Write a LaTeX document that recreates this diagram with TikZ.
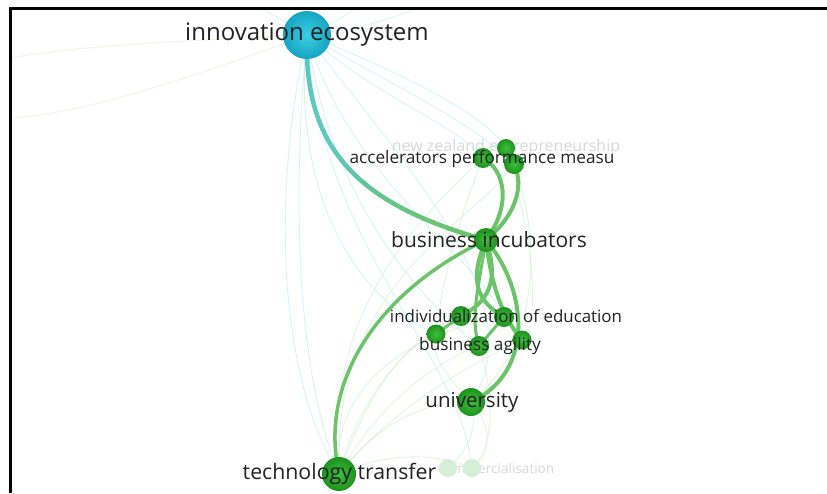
\documentclass[tikz,border=0pt]{standalone}
\usepackage{fontspec}
\setmainfont{Open Sans}
\usetikzlibrary{calc}
\pgfdeclarelayer{edges}
\pgfdeclarelayer{faint}
\pgfdeclarelayer{labels}
\pgfsetlayers{faint,edges,main,labels}
\definecolor{edgegreen}{HTML}{6CC46A}
\definecolor{edgeteal}{HTML}{5CC8C0}
\definecolor{nodein}{HTML}{3DBE3D}
\definecolor{nodeout}{HTML}{1E921E}
\definecolor{tealin}{HTML}{3CCDE4}
\definecolor{tealout}{HTML}{16A5C2}
\definecolor{faintg}{HTML}{C9EBCB}
\definecolor{faintc}{HTML}{C6EEF0}
\definecolor{fainty}{HTML}{F2F6E6}
\definecolor{lbltext}{HTML}{222222}
\definecolor{fadedtext}{HTML}{D8D8D8}
\tikzset{
  x=1pt, y=-1pt,
  gnode/.style={circle, inner sep=0pt, shade, inner color=nodein, outer color=nodeout},
  tnode/.style={circle, inner sep=0pt, shade, inner color=tealin, outer color=tealout},
  fnode/.style={circle, inner sep=0pt, fill=faintg!80!white},
  lbl/.style={inner sep=0pt, text=lbltext},
  flbl/.style={inner sep=0pt, text=fadedtext},
  mainedge/.style={draw=edgegreen, line width=4pt, line cap=round},
  faintedge/.style={draw=faintg, line width=0.9pt, opacity=0.55},
  faintcedge/.style={draw=faintc, line width=0.9pt, opacity=0.7},
  faintyedge/.style={draw=fainty, line width=1.2pt},
}
\begin{document}
\begin{tikzpicture}
\useasboundingbox (0,0) rectangle (827,493);
% nodes
\node[tnode, minimum size=48pt] (ie) at (307,35) {};
\node[gnode, minimum size=18pt] (nz) at (506,148) {};
\node[gnode, minimum size=20pt] (acc) at (483,158) {};
\node[gnode, minimum size=20pt] (acc2) at (514,164) {};
\node[gnode, minimum size=24pt] (bi) at (486,240) {};
\node[gnode, minimum size=20pt] (ind1) at (461,316) {};
\node[gnode, minimum size=20pt] (ind2) at (504,317) {};
\node[gnode, minimum size=19pt] (n3) at (436,334) {};
\node[gnode, minimum size=20pt] (ag) at (479,346) {};
\node[gnode, minimum size=19pt] (n4) at (522,340) {};
\node[gnode, minimum size=28pt] (uni) at (471,402) {};
\node[gnode, minimum size=34pt] (tt) at (339,474) {};
\node[fnode, minimum size=18pt] (c1) at (448,468) {};
\node[fnode, minimum size=18pt] (c2) at (472,468) {};
\coordinate (offl1) at (10,118);
\coordinate (offl2) at (10,58);
\coordinate (offu1) at (262,8);
\coordinate (offu2) at (356,8);
\coordinate (offu3) at (420,8);
\coordinate (offb) at (328,493);
% faint edges
\begin{pgfonlayer}{faint}
\draw[faintyedge] (ie.center) .. controls (200,75) and (80,115) .. (offl1);
\draw[faintyedge] (ie.center) .. controls (200,40) and (80,45) .. (offl2);
\draw[faintcedge] (ie.center) .. controls (290,25) .. (offu1);
\draw[faintcedge] (ie.center) .. controls (330,25) .. (offu2);
\draw[faintcedge] (ie.center) .. controls (360,28) .. (offu3);
\draw[faintcedge] (ie.center) .. controls (270,200) and (280,380) .. (tt.center);
\draw[faintcedge] (ie.center) .. controls (290,220) and (300,380) .. (tt.center);
\draw[faintcedge] (ie.center) .. controls (390,150) and (540,300) .. (uni.center);
\draw[faintcedge] (ie.center) .. controls (420,80) and (490,120) .. (nz.center);
\draw[faintcedge] (ie.center) .. controls (400,90) and (470,120) .. (acc2.center);
\draw[faintcedge] (ie.center) .. controls (380,100) and (450,120) .. (acc.center);
\draw[faintcedge] (ie.center) .. controls (330,200) and (420,300) .. (ag.center);
\draw[faintcedge] (ie.center) .. controls (290,200) and (360,300) .. (n3.center);
\draw[faintcedge] (ie.center) .. controls (320,250) and (460,350) .. (c2.center);
\draw[faintcedge] (ie.center) .. controls (350,180) and (470,250) .. (ind2.center);
\draw[faintedge] (tt.center) .. controls (380,420) and (430,400) .. (uni.center);
\draw[faintedge] (tt.center) .. controls (400,400) and (480,360) .. (n4.center);
\draw[faintedge] (tt.center) .. controls (380,400) and (440,360) .. (ag.center);
\draw[faintedge] (tt.center) .. controls (360,390) and (420,330) .. (ind1.center);
\draw[faintedge] (tt.center) .. controls (330,380) and (420,330) .. (ind2.center);
\draw[faintedge] (tt.center) .. controls (320,300) and (440,200) .. (acc.center);
\draw[faintedge] (tt.center) .. controls (330,280) and (480,220) .. (acc2.center);
\draw[faintedge] (tt.center) .. controls (380,455) and (430,450) .. (c2.center);
\draw[faintedge] (tt.center) .. controls (370,390) and (400,350) .. (n3.center);
\draw[faintedge] (tt.center) -- (offb);
\draw[faintedge] (uni.center) .. controls (495,430) and (490,455) .. (c2.center);
\draw[faintedge] (uni.center) .. controls (480,440) and (460,455) .. (c1.center);
\draw[faintedge] (acc2.center) .. controls (545,250) and (535,350) .. (uni.center);
\draw[faintedge] (nz.center) .. controls (535,240) and (540,330) .. (n4.center);
\draw[faintedge] (acc.center) .. controls (450,240) and (440,300) .. (n3.center);
\draw[faintedge] (uni.center) .. controls (440,370) and (430,350) .. (n3.center);
\draw[faintedge] (ag.center) .. controls (490,380) and (500,440) .. (c2.center);
\end{pgfonlayer}
% main edges
\begin{pgfonlayer}{edges}
\foreach \i in {0,...,23} {
  \pgfmathsetmacro{\ya}{30+10*\i}
  \pgfmathsetmacro{\yb}{\ya+10.5}
  \pgfmathsetmacro{\mx}{max(0,min(100,(\ya-140)*100/90))}
  \begin{scope}
    \clip (250,\ya) rectangle (520,\yb);
    \draw[line width=4.5pt, draw=edgegreen!\mx!edgeteal] (ie.center) .. controls (303,150) and (360,205) .. (bi.center);
  \end{scope}
}
\draw[mainedge] (bi.center) .. controls (512,205) and (505,170) .. (acc.center);
\draw[mainedge] (bi.center) .. controls (522,210) and (522,180) .. (acc2.center);
\draw[mainedge, line width=3.5pt] (bi.center) .. controls (380,290) and (318,380) .. (tt.center);
\draw[mainedge] (bi.center) .. controls (528,290) and (535,372) .. (uni.center);
\draw[mainedge] (bi.center) .. controls (500,282) and (488,302) .. (ind1.center);
\draw[mainedge] (bi.center) .. controls (468,282) and (478,302) .. (ind2.center);
\draw[mainedge] (bi.center) .. controls (492,292) and (505,320) .. (n4.center);
\draw[mainedge, line width=3pt] (bi.center) .. controls (478,290) and (470,318) .. (ag.center);
\draw[mainedge, line width=3pt] (ind1.center) -- (n3.center);
\draw[mainedge, line width=3pt] (ind2.center) -- (ag.center);
\end{pgfonlayer}
% faded labels (under nodes)
\begin{pgfonlayer}{faint}
\node[flbl, font=\fontsize{16}{18}\selectfont] (nzl) at (506,147) {new zealand entrepreneurship};
\node[flbl, font=\fontsize{13.6}{16}\selectfont, anchor=west] (cl) at (438,468) {commercialisation};
\end{pgfonlayer}
% labels
\begin{pgfonlayer}{labels}
\node[lbl, font=\fontsize{24}{28}\selectfont] (iel) at (307,35) {innovation ecosystem};
\node[lbl, font=\fontsize{17.2}{20}\selectfont] (accl) at (482,159) {accelerators performance measu};
\node[lbl, font=\fontsize{21}{24}\selectfont] (bil) at (489,240) {business incubators};
\node[lbl, font=\fontsize{16.9}{20}\selectfont] (indl) at (506,316) {individualization of education};
\node[lbl, font=\fontsize{17.2}{20}\selectfont] (agl) at (480,346) {business agility};
\node[lbl, font=\fontsize{20.5}{24}\selectfont] (unil) at (472,402) {university};
\node[lbl, font=\fontsize{21.3}{24}\selectfont] (ttl) at (339.5,474) {technology transfer};
\end{pgfonlayer}
% frame
\draw[line width=3pt, black] (10.5,8) -- (827,8);
\draw[line width=3pt, black] (10.5,6.5) -- (10.5,493);
\end{tikzpicture}
\end{document}
